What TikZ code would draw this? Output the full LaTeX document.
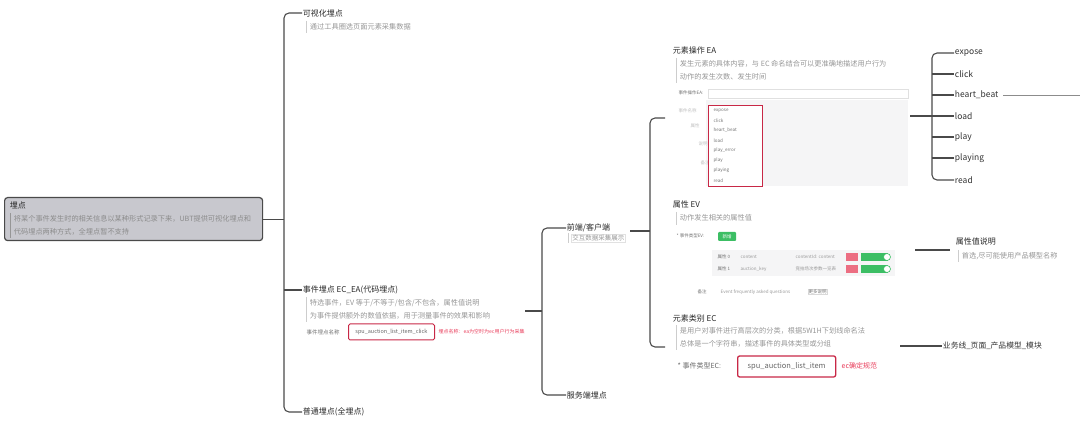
\documentclass[tikz,border=0pt]{standalone}
\usepackage{fontspec}
\setmainfont{Noto Sans CJK SC}
\usetikzlibrary{positioning}
\definecolor{linegray}{RGB}{74,74,74}
\definecolor{descgray}{RGB}{150,150,150}
\definecolor{bargray}{RGB}{205,205,205}
\definecolor{rootfill}{RGB}{200,200,206}
\definecolor{boxred}{RGB}{200,40,70}
\definecolor{tagred}{RGB}{232,60,90}
\definecolor{okgreen}{RGB}{60,190,100}
\definecolor{pillred}{RGB}{236,110,130}
\definecolor{panelgray}{RGB}{245,245,246}

\begin{document}
\begin{tikzpicture}[x=1pt,y=1pt,yscale=-1,
  title/.style={anchor=west,inner sep=0.75pt,font=\fontsize{8}{10}\selectfont,text=black!85},
  desc/.style={anchor=west,inner sep=0.75pt,font=\fontsize{7.2}{9}\selectfont,text=descgray},
  leaf/.style={anchor=west,inner sep=0.75pt,font=\fontsize{8.5}{10}\selectfont,text=black!80},
  tiny/.style={anchor=west,inner sep=0.5pt,font=\fontsize{4.5}{5}\selectfont,text=black!55},
  link/.style={draw=linegray,line width=1.1pt,rounded corners=5pt},
  quote/.style={draw=bargray,line width=1pt},
]
\useasboundingbox (0,0) rectangle (1080,430);

% Root
\node[draw=linegray,line width=1.2pt,fill=rootfill,rounded corners=3pt,minimum width=258pt,minimum height=43pt,anchor=north west,inner sep=0] (root) at (4,197) {};
\node[title] (rootT) at (9,205) {埋点};
\draw[quote,draw=descgray] (10,213) -- (10,238);
\node[desc,text=black!45] (rootD1) at (13,219) {将某个事件发生时的相关信息以某种形式记录下来，UBT提供可视化埋点和};
\node[desc,text=black!45] (rootD2) at (13,232) {代码埋点两种方式，全埋点暂不支持};

% Level 1
\node[title] (vis) at (302,13) {可视化埋点};
\draw[quote] (306,21) -- (306,33);
\node[desc] (visD) at (309,27) {通过工具圈选页面元素采集数据};

\node[title] (evt) at (302,290) {事件埋点 EC\_EA(代码埋点)};
\draw[quote] (306,297) -- (306,322);
\node[desc] (evtD1) at (309,303) {特选事件，EV 等于/不等于/包含/不包含，属性值说明};
\node[desc] (evtD2) at (309,316) {为事件提供额外的数值依据，用于测量事件的效果和影响};
\node[tiny,font=\fontsize{5.5}{6}\selectfont] (evtL) at (306,332) {事件埋点名称};
\node[draw=boxred,line width=1pt,rounded corners=1.5pt,minimum width=86pt,minimum height=16pt,inner sep=0,anchor=west,font=\fontsize{5.5}{6}\selectfont,text=black!60] (evtBox) at (348,332) {spu\_auction\_list\_item\_click};
\node[tiny,text=tagred,font=\fontsize{5}{6}\selectfont] (evtTag) at (438,332) {埋点名称：ea为空时为ec用户行为采集};

\node[title] (norm) at (302,412) {普通埋点(全埋点)};

\draw[link] (vis.west) -- ++(-18,0) |- (norm.west);
\draw[link] (evt.west) -- ++(-18,0);
\draw[link] (root.east) -- ([xshift=-18pt]root.east -| vis.west);

% Level 2
\node[title] (front) at (566,228) {前端/客户端};
\node[desc,draw=bargray!60,line width=0.5pt,inner sep=1.2pt,font=\fontsize{6.5}{8}\selectfont] (frontD) at (571,238) {交互数据采集展示};
\draw[quote] (568,233) -- (568,243);
\node[title] (server) at (566,395) {服务端埋点};
\coordinate (evtOut) at (525,311);
\coordinate (frontBr) at ([xshift=-24pt]front.west);
\draw[link] (front.west) -- (frontBr) |- (server.west);
\draw[link] (evtOut) -- (evtOut -| frontBr);

% Level 3
\coordinate (frontOut) at (630,231);
\coordinate (eaIn) at (665,118);
\coordinate (ecIn) at (665,347);
\draw[link] (eaIn) -| (650,231) |- (ecIn);
\draw[link] (frontOut) -- (650,231);

% EA
\node[title] (ea) at (672,50) {元素操作 EA};
\draw[quote] (676,58) -- (676,83);
\node[desc] (eaD1) at (679,64) {发生元素的具体内容，与 EC 命名结合可以更准确地描述用户行为};
\node[desc] (eaD2) at (679,77) {动作的发生次数、发生时间};
\node[tiny] (eaL) at (678,93) {事件操作EA:};
\draw[draw=black!12,line width=0.6pt] (708,89) rectangle (908,98);
\fill[panelgray] (706,100) rectangle (908,186);
\node[tiny,text=black!25] (eaL1) at (678,111) {事件名称};
\node[tiny,text=black!25] (eaL2) at (690,126) {属性};
\node[tiny,text=black!25] (eaL3) at (698,144) {说明};
\node[tiny,text=black!25] (eaL4) at (700,163) {备注};
\node[draw=boxred,fill=white,line width=1pt,anchor=north west,minimum width=54pt,minimum height=81pt,inner sep=0] (eaBox) at (708,105) {};
\foreach \t [count=\i] in {expose,click,heart\_beat,load,play\_error,play,playing,read}
  \node[tiny] (eaItem\i) at (713,100.5+10*\i) {\t};

% EA leaves
\node[leaf] (expose) at (954,53) {expose};
\node[leaf] (click) at (954,74) {click};
\node[leaf] (heart) at (954,95) {heart\_beat};
\node[leaf] (load) at (954,116) {load};
\node[leaf] (play) at (954,137) {play};
\node[leaf] (playing) at (954,158) {playing};
\node[leaf] (read) at (954,180) {read};
\draw[link] (expose.west) -- ++(-22,0) |- (read.west);
\foreach \n in {click,heart,play,playing}
  \draw[link] (\n.west) -- ++(-22,0);
\coordinate (eaOut) at (910,116);
\draw[link] (eaOut) -- (load.west);
\coordinate (heartEnd) at (1080,95);
\draw[draw=black!45,line width=0.6pt] ([xshift=4pt]heart.east) -- (heartEnd);

% EV
\node[title] (ev) at (672,204) {属性 EV};
\draw[quote] (676,212) -- (676,225);
\node[desc] (evD) at (679,218) {动作发生相关的属性值};
\node[tiny] (evL) at (676,236) {* 事件类型EV:};
\node[fill=okgreen,rounded corners=1pt,minimum width=18pt,minimum height=9pt,inner sep=0,anchor=west,font=\fontsize{4.5}{5}\selectfont,text=white] (evBtn) at (718,236.5) {新增};
\fill[panelgray] (712,250) rectangle (895,276);
\node[tiny] (evR1a) at (717,257) {属性 0};
\node[tiny,text=black!40] (evR1b) at (740,257) {content};
\node[tiny,text=black!40] (evR1c) at (795,257) {contentId: content};
\node[tiny] (evR2a) at (717,269) {属性 1};
\node[tiny,text=black!40] (evR2b) at (740,269) {auction\_key};
\node[tiny,text=black!40] (evR2c) at (795,269) {竞拍场次参数一览表};
\foreach \y in {257,269}{
  \fill[pillred] (846,\y-4) rectangle (858,\y+4);
  \fill[okgreen] (861,\y-4) rectangle (888,\y+4);
  \draw[okgreen,line width=0.6pt,fill=white] (887,\y) circle (3.5);
}
\node[tiny] (evR3a) at (697,292) {备注};
\node[tiny,text=black!40] (evR3b) at (720,292) {Event frequently asked questions};
\node[tiny,draw=black!15,line width=0.4pt] (evR3c) at (808,292) {更多说明};

\node[title] (evVal) at (955,241) {属性值说明};
\draw[quote] (958,250) -- (958,262);
\node[desc] (evValD) at (961,256) {首选,尽可能使用产品模型名称};
\coordinate (evOut) at (915,250);
\draw[link] (evOut) -- (950,250);

% EC
\node[title] (ec) at (672,318) {元素类别 EC};
\draw[quote] (676,325) -- (676,350);
\node[desc] (ecD1) at (679,331) {是用户对事件进行高层次的分类，根据5W1H下划线命名法};
\node[desc] (ecD2) at (679,344) {总体是一个字符串，描述事件的具体类型或分组};
\node[anchor=west,inner sep=0.5pt,font=\fontsize{7}{8}\selectfont,text=black!60] (ecL) at (677,366) {* 事件类型EC:};
\node[draw=boxred,line width=1.3pt,rounded corners=2pt,minimum width=98pt,minimum height=21pt,inner sep=0,anchor=west,font=\fontsize{7.5}{9}\selectfont,text=black!60] (ecBox) at (737,366.5) {spu\_auction\_list\_item};
\node[anchor=west,inner sep=0.5pt,font=\fontsize{7}{8}\selectfont,text=tagred] (ecTag) at (841,366) {ec确定规范};
\node[leaf,font=\fontsize{7.8}{9}\selectfont] (ecVal) at (942,346) {业务线\_页面\_产品模型\_模块};
\coordinate (ecOut) at (900,346);
\draw[link] (ecOut) -- (ecVal.west);

\end{tikzpicture}
\end{document}
